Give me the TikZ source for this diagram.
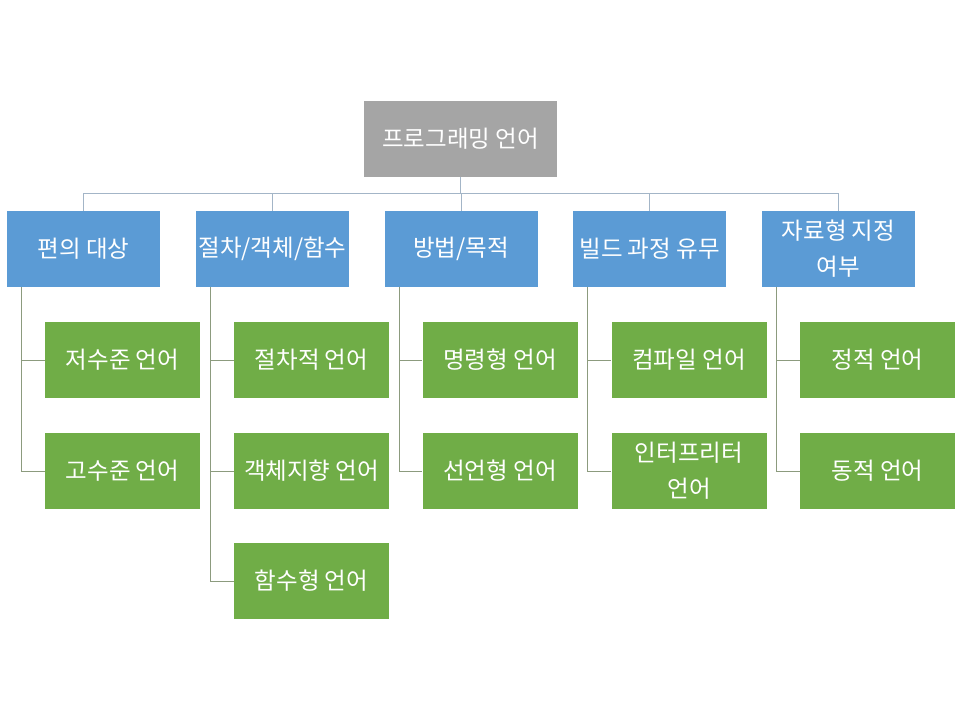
\documentclass[tikz,border=0pt]{standalone}
\usepackage{fontspec}
\setmainfont{Noto Sans CJK KR}
\definecolor{rootgray}{HTML}{A5A5A5}
\definecolor{catblue}{HTML}{5B9BD5}
\definecolor{leafgreen}{HTML}{70AD47}
\definecolor{busline}{HTML}{A3B5C7}
\definecolor{leafline}{HTML}{8C9B7E}
\tikzset{
  box/.style={text=white, inner sep=0pt, minimum height=76pt, align=center,
    font=\fontsize{23.5}{36}\selectfont},
  rootbox/.style={box, fill=rootgray, minimum width=193pt},
  catbox/.style={box, fill=catblue, minimum width=153pt},
  leafbox/.style={box, fill=leafgreen, minimum width=155pt},
  busconn/.style={draw=busline, line width=1pt},
  leafconn/.style={draw=leafline, line width=1pt}
}
\begin{document}
\begin{tikzpicture}[x=1pt, y=-1pt]
    \useasboundingbox (0,0) rectangle (960,720);

    % Root
    \node[rootbox] (root) at (460.5,139) {프로그래밍 언어};
    \coordinate (bus) at (0,193);

    % Categories
    \node[catbox] (cat1) at (83.5,249) {편의 대상};
    \node[catbox] (cat2) at (272.5,249) {절차/객체/함수};
    \node[catbox] (cat3) at (461,249) {방법/목적};
    \node[catbox] (cat4) at (649.5,249) {빌드 과정 유무};
    \node[catbox] (cat5) at (838.5,249) {자료형 지정\\여부};

    % Leaves
    \node[leafbox] (leaf11) at (122.5,360) {저수준 언어};
    \node[leafbox] (leaf12) at (122.5,471) {고수준 언어};
    \node[leafbox] (leaf21) at (311.5,360) {절차적 언어};
    \node[leafbox] (leaf22) at (311.5,471) {객체지향 언어};
    \node[leafbox] (leaf23) at (311.5,581) {함수형 언어};
    \node[leafbox] (leaf31) at (500,360) {명령형 언어};
    \node[leafbox] (leaf32) at (500,471) {선언형 언어};
    \node[leafbox] (leaf41) at (689,360) {컴파일 언어};
    \node[leafbox] (leaf42) at (689,471) {인터프리터\\언어};
    \node[leafbox] (leaf51) at (877.5,360) {정적 언어};
    \node[leafbox] (leaf52) at (877.5,471) {동적 언어};

    % Root to categories
    \foreach \c in {cat1,cat2,cat3,cat4,cat5}
        \draw[busconn] (root.south) -- (root.south |- bus) -| (\c.north);

    % Categories to leaves
    \foreach \c/\l in {cat1/leaf11, cat1/leaf12, cat2/leaf21, cat2/leaf22, cat2/leaf23,
                       cat3/leaf31, cat3/leaf32, cat4/leaf41, cat4/leaf42,
                       cat5/leaf51, cat5/leaf52}
        \draw[leafconn] ([xshift=15pt]\c.south west) |- (\l.west);
\end{tikzpicture}
\end{document}
